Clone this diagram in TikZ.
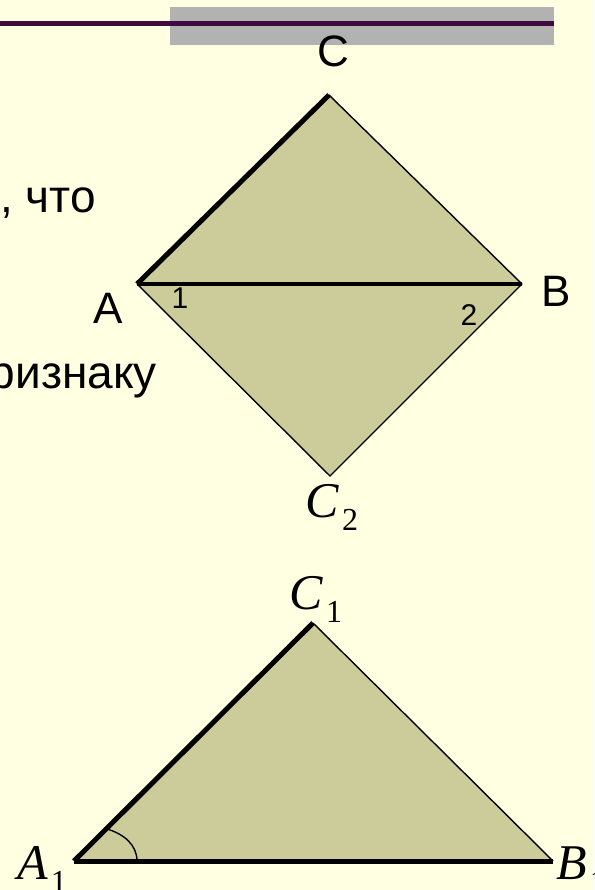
\documentclass[tikz,border=0pt]{standalone}
\usepackage{fontspec}
\setmainfont{Liberation Serif}
\setsansfont{Liberation Sans}
\usepackage{xcolor}
\usepackage{tikz}
\usetikzlibrary{positioning}
\definecolor{slidebg}{HTML}{FFFFE1}
\definecolor{bargray}{HTML}{B2B2B2}
\definecolor{barline}{HTML}{3F0A3F}
\definecolor{figfill}{HTML}{CBCC99}
\newcommand{\vtx}[2]{\textit{#1}\kern3pt\raisebox{-13pt}{\fontsize{32}{32}\selectfont #2}}

\begin{document}
\begin{tikzpicture}[x=1pt, y=-1pt]
\tikzstyle{thinside} = [draw, line width=1.4pt]
\tikzstyle{thickside} = [draw, line width=5pt]
\tikzstyle{letter} = [inner sep=0pt, anchor=base, font=\sffamily\fontsize{44}{44}\selectfont]
\tikzstyle{num} = [inner sep=0pt, anchor=base, font=\sffamily\fontsize{30}{30}\selectfont]
\tikzstyle{vname} = [inner sep=0pt, anchor=base west, font=\fontsize{50}{50}\selectfont]
\tikzstyle{words} = [inner sep=0pt, anchor=base east, font=\sffamily\fontsize{46}{46}\selectfont]

\clip (0,0) rectangle (594,890);
\fill [slidebg] (0,0) rectangle (594,890);
\fill [bargray] (170,7) rectangle (554,45.5);
\draw [barline, line width=5pt] (0,23.5) -- (554,23.5);

\node [words] (that) at (96,213) {, что};
\node [words] (sign) at (157,388) {признаку};

\coordinate (C) at (329,95);
\coordinate (A) at (137,284);
\coordinate (B) at (522,284);
\coordinate (C2) at (330,476);

\fill [figfill] (C) -- (B) -- (C2) -- (A) -- cycle;
\draw [thinside] (C) -- (B);
\draw [thinside] (A) -- (C2) -- (B);
\draw [line width=4.5pt] (A) -- (B);
\draw [thickside] (A) -- (C);

\node [letter] (lC) at (333,67) {C};
\node [letter] (lA) at (108,323) {A};
\node [letter] (lB) at (556,306) {B};
\node [num] (n1) at (180,308) {1};
\node [num] (n2) at (469,325) {2};
\node [vname] (lC2) at (305,517) {\vtx{C}{2}};

\coordinate (A1) at (74,861);
\coordinate (B1) at (553,861);
\coordinate (C1) at (313,623);

\fill [figfill] (A1) -- (C1) -- (B1) -- cycle;
\draw [thinside] (C1) -- (B1);
\draw [thickside] (A1) -- (B1);
\draw [thickside] (A1) -- (C1);
\draw [thinside] (137,861) .. controls (137,845) and (124,834) .. (107,829);

\node [vname] (lC1) at (289,609) {\vtx{C}{1}};
\node [vname] (lA1) at (17,879) {\vtx{A}{1}};
\node [vname] (lB1) at (556,879) {\vtx{B}{1}};
\end{tikzpicture}
\end{document}
